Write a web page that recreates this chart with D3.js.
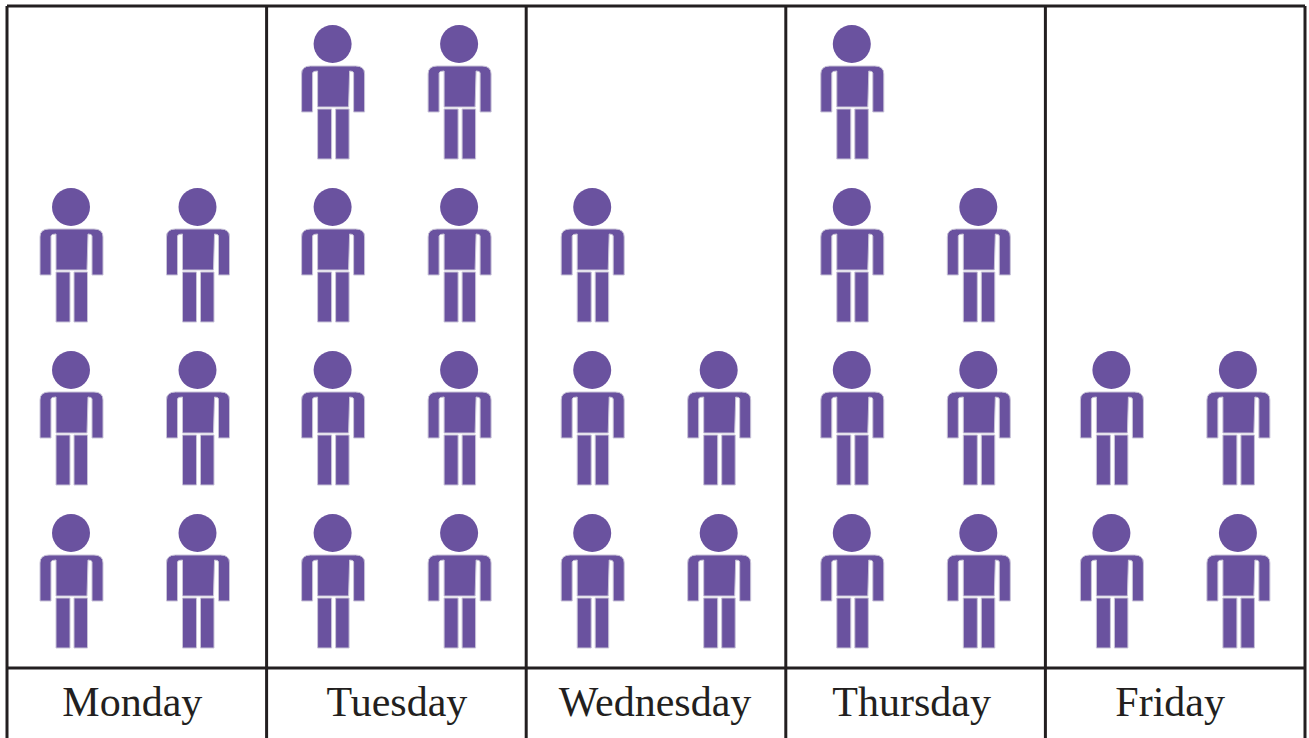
<!DOCTYPE html>
<html>
<head>
<meta charset="utf-8">
<script src="https://cdnjs.cloudflare.com/ajax/libs/d3/7.8.5/d3.min.js"></script>
<style>
	html, body { margin: 0; padding: 0; background: #fff; overflow: hidden; }
	svg { display: block; }
	text { font-family: "Liberation Serif", serif; font-size: 42px; fill: #231f20; }
</style>
</head>
<body>
<svg width="1309" height="738"></svg>
<script>
// Number of figures per day
var days = ["Monday", "Tuesday", "Wednesday", "Thursday", "Friday"];
var counts = [6, 8, 5, 7, 4];

var svg = d3.select("svg");
var ink = "#231f20", purple = "#6a529f";

// Each day is a band, each band holds 2 columns and 4 rows of figures
var xScale = d3.scaleBand().domain(days).range([7, 1305]);
var colScale = d3.scalePoint().domain([0, 1]).range([65, 191.5]);
var rowScale = d3.scalePoint().domain([0, 1, 2, 3]).range([533, 44]);

// The table in the source is not perfectly regular
var figureNudge = { Monday: -1, Tuesday: 1, Wednesday: 1, Thursday: 1, Friday: 1 };
var labelNudge = { Monday: -4.5, Tuesday: 0.5, Wednesday: -1, Thursday: -4, Friday: -5 };

var plotTop = 6, plotBottom = 668, pageBottom = 738;

// Figure shape, origin at the centre of the head
function figure() {
	var p = d3.path();
	// arms and torso
	p.moveTo(-31, 30);
	p.quadraticCurveTo(-31, 22, -22, 22);
	p.lineTo(23, 22);
	p.quadraticCurveTo(32, 22, 32, 30);
	p.lineTo(32, 68);
	p.lineTo(21, 68);
	p.lineTo(21, 29);
	p.quadraticCurveTo(21, 27, 17, 27);
	p.lineTo(16, 63);
	p.lineTo(-15, 63);
	p.lineTo(-15, 27);
	p.quadraticCurveTo(-20, 27, -20, 29);
	p.lineTo(-20, 68);
	p.lineTo(-31, 68);
	p.closePath();
	// legs
	p.rect(-15, 65, 14, 50);
	p.rect(3, 65, 13.5, 50);
	return p.toString();
}
var figurePath = figure();

// Flatten the counts into one record per figure, filled bottom-up, left to right
var people = [];
days.forEach(function(day, i) {
	d3.range(counts[i]).forEach(function(n) {
		people.push({ day: day, col: n % 2, row: Math.floor(n / 2) });
	});
});

var g = svg.selectAll(".person")
	.data(people)
	.enter().append("g")
	.attr("class", "person")
	.attr("transform", d => "translate(" + (xScale(d.day) + colScale(d.col) + figureNudge[d.day]) + "," + rowScale(d.row) + ")");

g.append("circle")
	.attr("r", 19)
	.attr("fill", purple);

g.append("path")
	.attr("d", figurePath)
	.attr("fill", purple)
	.attr("stroke", "#c9c4d8")
	.attr("stroke-width", 1);

// Table rules
var rules = svg.append("g")
	.attr("stroke", ink)
	.attr("stroke-width", 3);

rules.selectAll(".vrule")
	.data(days.map(d => xScale(d)).concat([xScale.range()[1]]))
	.enter().append("line")
	.attr("class", "vrule")
	.attr("x1", d => d)
	.attr("x2", d => d)
	.attr("y1", plotTop)
	.attr("y2", pageBottom);

rules.selectAll(".hrule")
	.data([plotTop, plotBottom])
	.enter().append("line")
	.attr("class", "hrule")
	.attr("x1", xScale.range()[0])
	.attr("x2", xScale.range()[1])
	.attr("y1", d => d)
	.attr("y2", d => d);

// Day names
svg.selectAll(".day")
	.data(days)
	.enter().append("text")
	.attr("class", "day")
	.attr("x", d => xScale(d) + xScale.bandwidth() / 2)
	.attr("y", 716)
	.attr("dx", d => labelNudge[d])
	.attr("text-anchor", "middle")
	.text(d => d);
</script>
</body>
</html>
